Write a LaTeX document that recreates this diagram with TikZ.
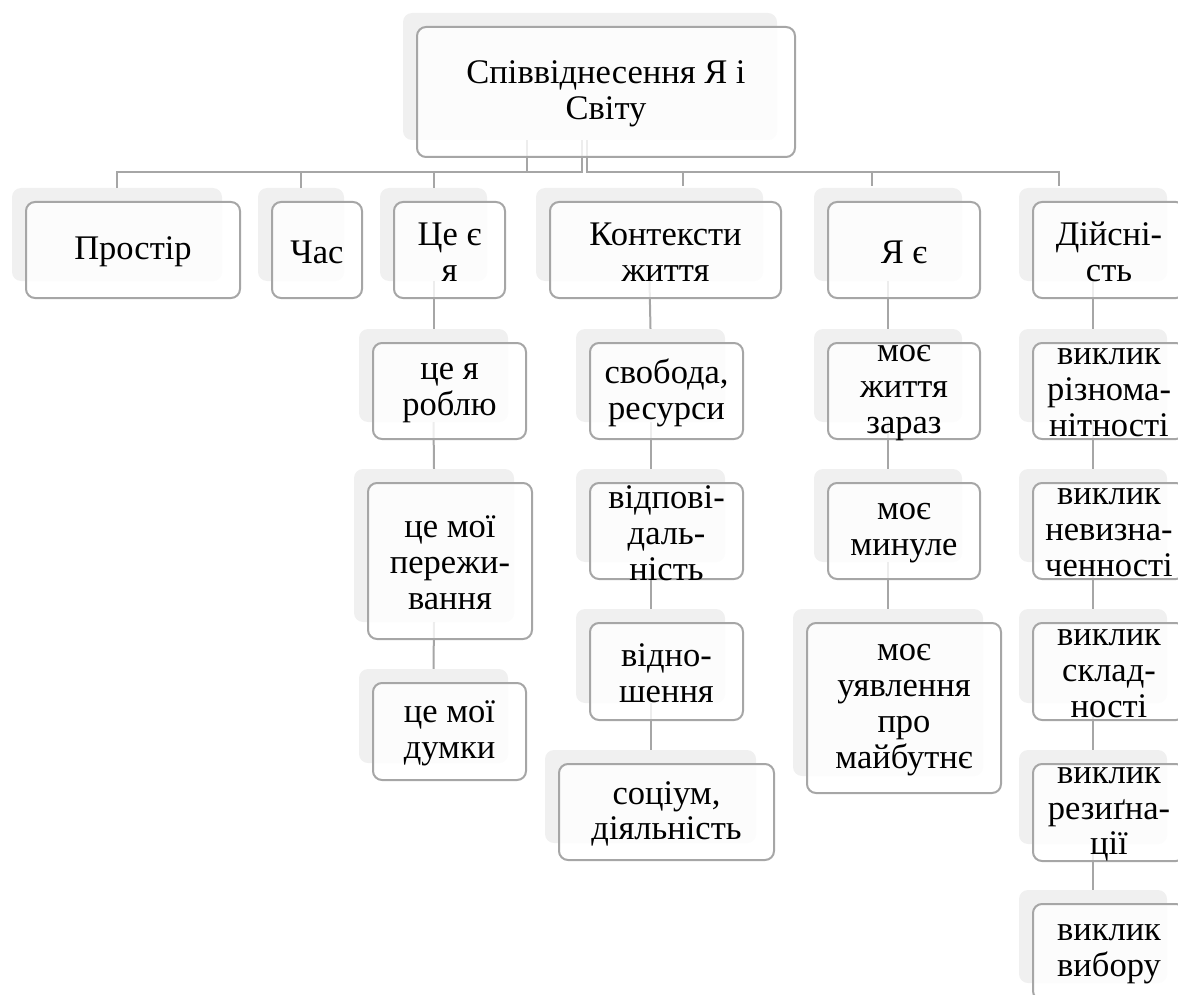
\documentclass[tikz,border=0pt]{standalone}
\usepackage{fontspec}
\newfontfamily\boxfont{Liberation Serif}
\pgfdeclarelayer{shd}
\pgfdeclarelayer{cn}
\pgfsetlayers{shd,cn,main}
\definecolor{lineg}{HTML}{A6A6A6}
\definecolor{shadeg}{HTML}{F0F0F0}
\tikzset{
  shadowbox/.style={rectangle, draw=none, fill=shadeg, rounded corners=9pt, inner sep=0pt},
  boxshape/.style={rectangle, draw=lineg, line width=2pt, fill=white, fill opacity=0.8, rounded corners=9pt, inner sep=0pt},
  txt/.style={align=center, inner sep=0pt, font=\boxfont\fontsize{34.5}{35.8}\selectfont, text=black},
  conn/.style={draw=lineg, line width=2pt},
}
\newcommand\mkbox[5]{%
  \begin{pgfonlayer}{shd}
    \node[shadowbox, minimum width={#4-#2-4}, minimum height={#5-#3-3}] (#1S) at ({(#2+#4)/2-16},{(#3+#5)/2-15.5}) {};
  \end{pgfonlayer}
  \node[boxshape, minimum width={#4-#2}, minimum height={#5-#3}] (#1) at ({(#2+#4)/2},{(#3+#5)/2}) {};
}
\newcommand\mktext[2]{\node[txt] (#1T) at ([yshift=-2pt]#1.center) {#2};}
\begin{document}
\begin{tikzpicture}[x=1pt,y=-1pt]
\useasboundingbox (0,0) rectangle (1178,995);
% boxes
\mkbox{root}{417}{27}{795}{157}
\mkbox{pros}{26}{202}{240}{298}
\mkbox{chas}{272}{202}{362}{298}
\mkbox{ce}{394}{202}{505}{298}
\mkbox{kont}{550}{202}{781}{298}
\mkbox{ya}{828}{202}{980}{298}
\mkbox{dij}{1033}{202}{1185}{298}
\mkbox{ceA}{373}{343}{526}{439}
\mkbox{ceB}{368}{483}{532}{639}
\mkbox{ceC}{373}{683}{526}{780}
\mkbox{kA}{590}{343}{743}{439}
\mkbox{kB}{590}{483}{743}{579}
\mkbox{kC}{590}{623}{743}{720}
\mkbox{kD}{559}{764}{774}{860}
\mkbox{yA}{828}{343}{980}{439}
\mkbox{yB}{828}{483}{980}{579}
\mkbox{yC}{807}{623}{1001}{793}
\mkbox{dA}{1033}{343}{1185}{439}
\mkbox{dB}{1033}{483}{1185}{579}
\mkbox{dC}{1033}{623}{1185}{720}
\mkbox{dD}{1033}{764}{1185}{861}
\mkbox{dE}{1033}{904}{1185}{1000}
% texts
\mktext{root}{Співвіднесення Я і\\Світу}
\mktext{pros}{Простір}
\mktext{chas}{Час}
\mktext{ce}{Це є\\я}
\mktext{kont}{Контексти\\життя}
\mktext{ya}{Я є}
\mktext{dij}{Дійсні-\\сть}
\mktext{ceA}{це я\\роблю}
\mktext{ceB}{це мої\\пережи-\\вання}
\mktext{ceC}{це мої\\думки}
\mktext{kA}{свобода,\\ресурси}
\mktext{kB}{відпові-\\даль-\\ність}
\mktext{kC}{відно-\\шення}
\mktext{kD}{соціум,\\діяльність}
\mktext{yA}{моє\\життя\\зараз}
\mktext{yB}{моє\\минуле}
\mktext{yC}{моє\\уявлення\\про\\майбутнє}
\mktext{dA}{виклик\\різнома-\\нітності}
\mktext{dB}{виклик\\невизна-\\ченності}
\mktext{dC}{виклик\\склад-\\ності}
\mktext{dD}{виклик\\резиґна-\\ції}
\mktext{dE}{виклик\\вибору}
% connectors
\begin{pgfonlayer}{cn}
  \coordinate (j0) at (527,172);
  \coordinate (jL) at (582,172);
  \coordinate (jR) at (587,172);
  \coordinate (tK) at (683,186);
  \coordinate (tY) at (872,186);
  \coordinate (tD) at (1059,186);
  \draw[conn] (rootS.south -| j0) -- (j0);
  \draw[conn] (rootS.south -| jL) -- (jL) -| (prosS.north);
  \draw[conn] (jL) -| (chasS.north);
  \draw[conn] (jL) -| (ceS.north);
  \draw[conn] (rootS.south -| jR) -- (jR) -| (tK);
  \draw[conn] (jR) -| (tY);
  \draw[conn] (jR) -| (tD);
  \draw[conn] (ceS.south) -- (ceAS.north);
  \draw[conn] (ceAS.south) -- (ceBS.north);
  \draw[conn] (ceBS.south) -- (ceCS.north);
  \draw[conn] (kontS.south) -- (kAS.north);
  \draw[conn] (kAS.south) -- (kBS.north);
  \draw[conn] (kBS.south) -- (kCS.north);
  \draw[conn] (kCS.south) -- (kDS.north);
  \draw[conn] (yaS.south) -- (yAS.north);
  \draw[conn] (yAS.south) -- (yBS.north);
  \draw[conn] (yBS.south) -- (yCS.north);
  \draw[conn] (dijS.south) -- (dAS.north);
  \draw[conn] (dAS.south) -- (dBS.north);
  \draw[conn] (dBS.south) -- (dCS.north);
  \draw[conn] (dCS.south) -- (dDS.north);
  \draw[conn] (dDS.south) -- (dES.north);
\end{pgfonlayer}
\end{tikzpicture}
\end{document}
